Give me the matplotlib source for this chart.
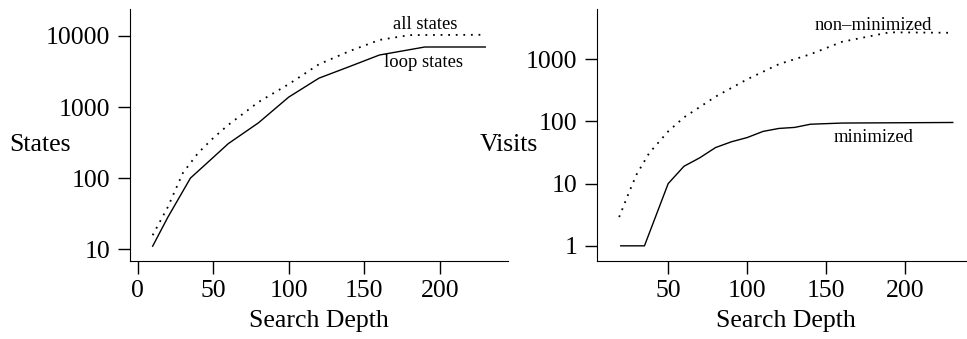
import matplotlib
matplotlib.use("Agg")
import matplotlib.pyplot as plt
from matplotlib.ticker import FixedLocator, FixedFormatter, NullLocator

plt.rcParams['font.family'] = ['Liberation Serif', 'DejaVu Serif']

# left panel: states vs search depth
depth_all = [10, 20, 30, 40, 50, 60, 80, 100, 120, 140, 160, 180, 230]
all_states = [15.7, 39, 118, 225, 365, 560, 1175, 2100, 4000, 6100, 8800, 10300, 10400]
depth_loop = [10, 20, 35, 50, 60, 80, 100, 120, 140, 160, 190, 230]
loop_states = [11, 28, 100, 195, 305, 600, 1380, 2550, 3700, 5400, 7000, 7000]

# right panel: visits vs search depth
depth_non = [19, 25, 30, 38, 50, 60, 80, 100, 120, 140, 160, 190, 230]
non_minimized = [2.9, 7, 14, 31, 69, 116, 250, 475, 830, 1200, 1900, 2700, 2650]
depth_min = [20, 35, 50, 60, 70, 80, 90, 100, 110, 120, 130, 140, 160, 230]
minimized = [1, 1, 10, 19, 26, 38, 47, 55, 69, 77, 80, 90, 94, 96]

left_yticks = [10, 100, 1000, 10000]
right_yticks = [1, 10, 100, 1000]
left_xticks = [0, 50, 100, 150, 200]
right_xticks = [50, 100, 150, 200]

fig = plt.figure(figsize=(9.67, 3.39), dpi=100)
ax1 = fig.add_axes([0.1344, 0.230, 0.3909, 0.7435])
ax2 = fig.add_axes([0.6174, 0.230, 0.3826, 0.7435])

dot = (0, (1, 3.2))
ax1.plot(depth_all, all_states, color='black', lw=1.3, linestyle=dot)
ax1.plot(depth_loop, loop_states, color='black', lw=1.0)
ax2.plot(depth_non, non_minimized, color='black', lw=1.3, linestyle=dot)
ax2.plot(depth_min, minimized, color='black', lw=1.0)

ax1.set_xlim(-5, 245)
ax1.set_ylim(6.8, 24000)
ax2.set_xlim(5, 239)
ax2.set_ylim(0.57, 6400)

for ax, yt, xt in [(ax1, left_yticks, left_xticks), (ax2, right_yticks, right_xticks)]:
    ax.set_yscale('log')
    ax.yaxis.set_major_locator(FixedLocator(yt))
    ax.yaxis.set_major_formatter(FixedFormatter([str(v) for v in yt]))
    ax.yaxis.set_minor_locator(NullLocator())
    ax.set_xticks(xt)
    ax.set_xticklabels([str(v) for v in xt])
    ax.spines['top'].set_visible(False)
    ax.spines['right'].set_visible(False)
    ax.tick_params(axis='both', direction='out', length=9, width=1, pad=5, labelsize=18.5)
    ax.set_xlabel('Search Depth', fontsize=18.5)
    ax.xaxis.set_label_coords(0.5, -0.195)

ax1.set_ylabel('States', fontsize=18.5, rotation=0, va='center', ha='center')
ax1.yaxis.set_label_coords(-0.238, 0.46)
ax2.set_ylabel('Visits', fontsize=18.5, rotation=0, va='center', ha='center')
ax2.yaxis.set_label_coords(-0.238, 0.46)
ax2.xaxis.set_label_coords(0.51, -0.195)

ax1.text(190, 14300, 'all states', fontsize=13.4, ha='center', va='center')
ax1.text(189, 4300, 'loop states', fontsize=13.4, ha='center', va='center')
ax2.text(180, 3500, 'non\u2013minimized', fontsize=13.4, ha='center', va='center')
ax2.text(180, 55, 'minimized', fontsize=13.4, ha='center', va='center')

fig.savefig('out.png', dpi=100)
